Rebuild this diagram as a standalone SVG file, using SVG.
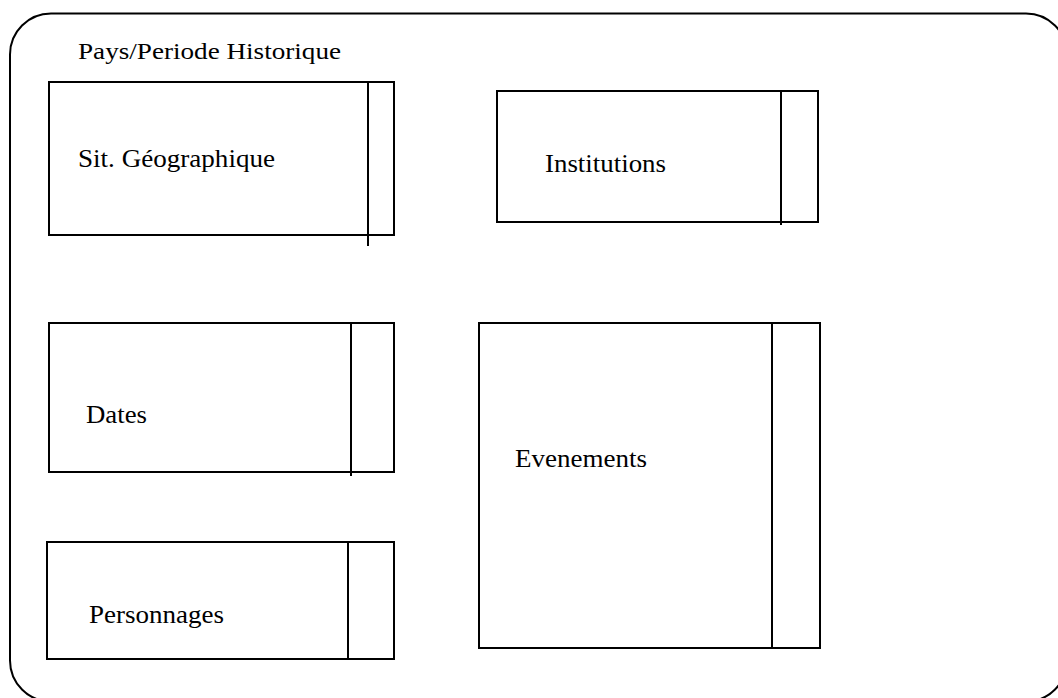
<svg xmlns="http://www.w3.org/2000/svg" width="1058" height="698" viewBox="0 0 1058 698">
<style>
.b{fill:none;stroke:#000;stroke-width:2}
.t{font-family:"Liberation Serif","Times New Roman",serif;font-size:25px;fill:#000}
</style>
<rect width="1058" height="698" fill="#fff"/>
<g id="container">
<rect class="b" x="10" y="13.5" width="1057" height="688" rx="41" ry="41"/>
<text class="t" x="78" y="59" style="font-size:23px" textLength="263" lengthAdjust="spacingAndGlyphs">Pays/Periode Historique</text>
</g>
<g id="sit">
<rect class="b" x="49" y="82" width="345" height="153"/>
<line class="b" x1="368" y1="82" x2="368" y2="246"/>
<text class="t" x="78" y="167" textLength="197" lengthAdjust="spacingAndGlyphs">Sit. Géographique</text>
</g>
<g id="institutions">
<rect class="b" x="497" y="91" width="321" height="131"/>
<line class="b" x1="781" y1="91" x2="781" y2="225"/>
<text class="t" x="545" y="172" textLength="121" lengthAdjust="spacingAndGlyphs">Institutions</text>
</g>
<g id="dates">
<rect class="b" x="49" y="323" width="345" height="149"/>
<line class="b" x1="351" y1="323" x2="351" y2="476"/>
<text class="t" x="86" y="423" textLength="61" lengthAdjust="spacingAndGlyphs">Dates</text>
</g>
<g id="personnages">
<rect class="b" x="47" y="542" width="347" height="117"/>
<line class="b" x1="348" y1="542" x2="348" y2="659"/>
<text class="t" x="89" y="623" textLength="135" lengthAdjust="spacingAndGlyphs">Personnages</text>
</g>
<g id="evenements">
<rect class="b" x="479" y="323" width="341" height="325"/>
<line class="b" x1="772" y1="323" x2="772" y2="648"/>
<text class="t" x="515" y="467" textLength="132" lengthAdjust="spacingAndGlyphs">Evenements</text>
</g>
<g id="connectors"></g>
</svg>
